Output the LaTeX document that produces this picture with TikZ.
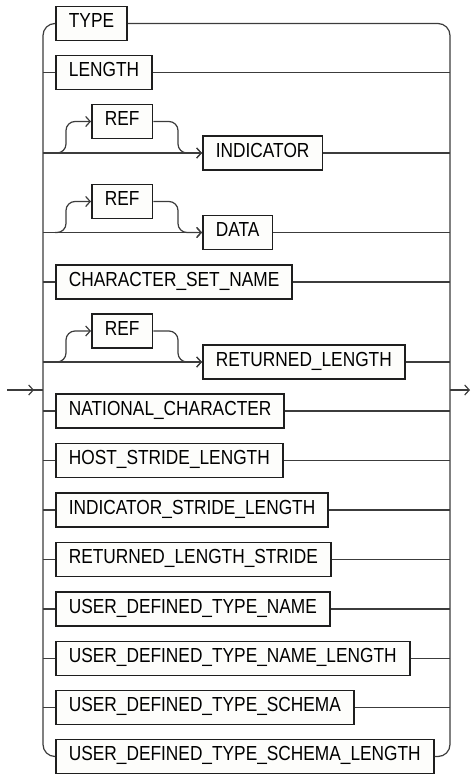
\documentclass[tikz,border=0pt]{standalone}
\usepackage{fontspec}
\setmainfont{Liberation Sans}[FakeStretch=0.85]
\usetikzlibrary{arrows.meta}
\definecolor{RailGray}{HTML}{3C3C3C}
\definecolor{BoxEdge}{HTML}{1E1E1E}
\definecolor{BoxFill}{HTML}{FDFDFB}

\begin{document}
\begin{tikzpicture}[x=1pt,y=-1pt, every node/.style={font=\fontsize{20.35}{24}\selectfont},
box/.style={draw=BoxEdge,line width=1.8pt,fill=BoxFill,anchor=west,minimum height=34pt,inner xsep=13pt,inner ysep=0pt,text height=14.6pt,text depth=5.7pt},
rail/.style={draw=RailGray,line width=1.2pt},
arr/.style={rail,-{Straight Barb[length=4.5pt,width=10pt]}}]
\useasboundingbox (0,0) rectangle (471,774);
\node[box] (type) at (55,23.5) {TYPE};
\node[box] (length) at (55,72.5) {LENGTH};
\node[box] (ind) at (202,153) {INDICATOR};
\node[box] (ref1) at (91,121.5) {REF};
\node[box] (data) at (202,232.5) {DATA};
\node[box] (ref2) at (91,201.5) {REF};
\node[box] (csname) at (55,282) {CHARACTER\_SET\_NAME};
\node[box] (rlen) at (202,362) {RETURNED\_LENGTH};
\node[box] (ref3) at (91,331) {REF};
\node[box] (natchar) at (55,411) {NATIONAL\_CHARACTER};
\node[box] (hslen) at (55,460.5) {HOST\_STRIDE\_LENGTH};
\node[box] (islen) at (55,510) {INDICATOR\_STRIDE\_LENGTH};
\node[box] (rlstride) at (55,559.5) {RETURNED\_LENGTH\_STRIDE};
\node[box] (udtname) at (55,609) {USER\_DEFINED\_TYPE\_NAME};
\node[box] (udtnlen) at (55,658.5) {USER\_DEFINED\_TYPE\_NAME\_LENGTH};
\node[box] (udtschema) at (55,707.5) {USER\_DEFINED\_TYPE\_SCHEMA};
\node[box] (udtslen) at (55,756.5) {USER\_DEFINED\_TYPE\_SCHEMA\_LENGTH};
\coordinate (ltop) at (43,23.5);
\coordinate (rtop) at (450,23.5);
\coordinate (start) at (7,390);
\coordinate (stop) at (470,390);
% the two buses
\draw[rail,rounded corners=12pt] (type.west) -- (ltop) -- (ltop |- udtslen) -- (udtslen.west);
\draw[rail,rounded corners=12pt] (type.east) -- (rtop) -- (rtop |- udtslen) -- (udtslen.east);
% plain choices
\draw[rail] (ltop |- length) -- (length.west) (length.east) -- (rtop |- length);
\draw[rail] (ltop |- csname) -- (csname.west) (csname.east) -- (rtop |- csname);
\draw[rail] (ltop |- natchar) -- (natchar.west) (natchar.east) -- (rtop |- natchar);
\draw[rail] (ltop |- hslen) -- (hslen.west) (hslen.east) -- (rtop |- hslen);
\draw[rail] (ltop |- islen) -- (islen.west) (islen.east) -- (rtop |- islen);
\draw[rail] (ltop |- rlstride) -- (rlstride.west) (rlstride.east) -- (rtop |- rlstride);
\draw[rail] (ltop |- udtname) -- (udtname.west) (udtname.east) -- (rtop |- udtname);
\draw[rail] (ltop |- udtnlen) -- (udtnlen.west) (udtnlen.east) -- (rtop |- udtnlen);
\draw[rail] (ltop |- udtschema) -- (udtschema.west) (udtschema.east) -- (rtop |- udtschema);
% optional REF before
\draw[arr] (ltop |- ind) -- (ind.west);
\draw[arr,rounded corners=9pt] (type.west |- ind) -| ([xshift=-25pt]ref1.west) -- (ref1.west);
\draw[arr,rounded corners=9pt] (ref1.east) -| ([xshift=-24pt]ind.west) -- (ind.west);
\draw[rail] (ind.east) -- (rtop |- ind);
\draw[arr] (ltop |- data) -- (data.west);
\draw[arr,rounded corners=9pt] (type.west |- data) -| ([xshift=-25pt]ref2.west) -- (ref2.west);
\draw[arr,rounded corners=9pt] (ref2.east) -| ([xshift=-24pt]data.west) -- (data.west);
\draw[rail] (data.east) -- (rtop |- data);
\draw[arr] (ltop |- rlen) -- (rlen.west);
\draw[arr,rounded corners=9pt] (type.west |- rlen) -| ([xshift=-25pt]ref3.west) -- (ref3.west);
\draw[arr,rounded corners=9pt] (ref3.east) -| ([xshift=-24pt]rlen.west) -- (rlen.west);
\draw[rail] (rlen.east) -- (rtop |- rlen);
% in and out
\draw[rail] (start) -- (ltop |- start);
\draw[arr] (start) -- ([xshift=-9pt]ltop |- start);
\draw[arr] (rtop |- stop) -- (stop);
\end{tikzpicture}
\end{document}
